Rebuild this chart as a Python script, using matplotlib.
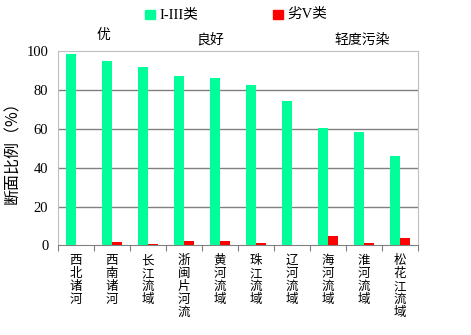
import matplotlib
matplotlib.use("Agg")
import matplotlib.pyplot as plt
import numpy as np
from matplotlib.patches import Rectangle

categories = ["西北诸河", "西南诸河", "长江流域", "浙闽片河流", "黄河流域",
              "珠江流域", "辽河流域", "海河流域", "淮河流域", "松花江流域"]
grade_1_3 = [98.6, 95.0, 91.9, 87.3, 86.3, 82.6, 74.4, 60.5, 58.4, 46.0]
grade_v_worse = [0.0, 1.7, 0.6, 2.2, 2.2, 1.3, 0.0, 4.8, 1.2, 3.8]
series_names = ["I-III类", "劣V类"]
yticks = [0, 20, 40, 60, 80, 100]
quality_labels = ["优", "良好", "轻度污染"]

cjk = ["Noto Sans CJK SC", "DejaVu Sans"]
serif = ["Liberation Serif", "DejaVu Serif"]

fig = plt.figure(figsize=(4.71, 3.35), dpi=100)
ax = fig.add_axes([58/471, 1 - 245.3/335, 360/471, (245.3-51.3)/335])

x = np.arange(len(categories))
w = 0.28
ax.bar(x - w/2, grade_1_3, width=w, color="#00FF99", label=series_names[0], zorder=3)
ax.bar(x + w/2, grade_v_worse, width=w, color="#FF0000", label=series_names[1], zorder=3)

ax.set_xlim(-0.5, len(categories) - 0.5)
ax.set_ylim(0, 100)
ax.set_yticks(yticks)
ax.set_yticklabels([str(v) for v in yticks], fontfamily=serif, fontsize=10.5)
for v in yticks[1:-1]:
    ax.axhline(v, color="#808080", lw=1.0, zorder=1)

for s in ["top", "right", "left"]:
    ax.spines[s].set_color("#BFBFBF")
ax.spines["bottom"].set_color("#808080")
ax.tick_params(axis="y", length=0, pad=7)

ax.set_xticks(np.arange(-0.5, len(categories) + 0.5, 1.0), minor=False)
ax.set_xticklabels([])
ax.tick_params(axis="x", length=4, color="#808080", direction="out")
for i, c in enumerate(categories):
    ax.text(i, -4.5, "\n".join(c), ha="center", va="top", fontsize=9,
            family=cjk, linespacing=1.0, transform=ax.transData)

ax.set_ylabel("断面比例（%）", family=cjk, fontsize=11.5, labelpad=4)

# quality annotations
fig.text(103/471, 1 - 35/335, quality_labels[0], ha="center", va="center", family=cjk, fontsize=10)
fig.text(210/471, 1 - 40/335, quality_labels[1], ha="center", va="center", family=cjk, fontsize=10)
fig.text(362/471, 1 - 40/335, quality_labels[2], ha="center", va="center", family=cjk, fontsize=10)

# legend
leg_items = [(150, "#00FF99", series_names[0]), (278, "#FF0000", series_names[1])]
for xc, col, name in leg_items:
    fig.patches.append(Rectangle(((xc-5)/471, 1 - 19/335), 10/471, 9/335,
                                 transform=fig.transFigure, color=col))
    fig.text((xc + 9)/471, 1 - 14.5/335, name, ha="left", va="center",
             family=["Liberation Serif", "Noto Sans CJK SC"], fontsize=10.5)

fig.savefig("out.png", dpi=100)
